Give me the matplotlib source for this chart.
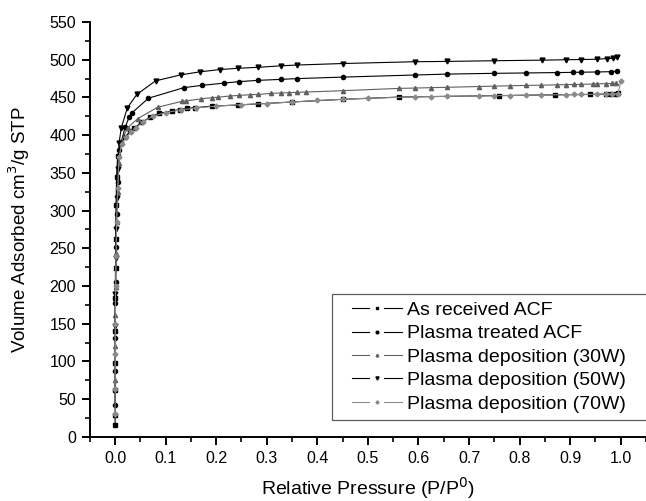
import matplotlib
matplotlib.use('Agg')
import matplotlib.pyplot as plt
from matplotlib.ticker import MultipleLocator
from matplotlib.lines import Line2D
from matplotlib.legend_handler import HandlerLine2D

plt.rcParams['font.family'] = ['Liberation Sans', 'DejaVu Sans']

# ---------------- data ----------------
labels = ['As received ACF', 'Plasma treated ACF', 'Plasma deposition (30W)',
          'Plasma deposition (50W)', 'Plasma deposition (70W)']

x_asrec = [0.00001, 0.00003, 0.0001, 0.0002, 0.0004, 0.0007, 0.001, 0.0015, 0.002, 0.003, 0.005,
           0.012, 0.02, 0.03, 0.038, 0.052, 0.07, 0.087, 0.113, 0.128, 0.143, 0.158, 0.191, 0.244,
           0.283, 0.35, 0.45, 0.561, 0.759, 0.871, 0.94, 0.97, 0.98, 0.99, 0.995]
y_asrec = [16, 29, 62, 98, 140, 184, 224, 263, 308, 345, 372,
           390, 398, 405, 409, 417, 424, 429, 432, 434, 435.5, 436.5, 438.5, 440,
           441.5, 444, 447.5, 450.5, 452.5, 453.5, 454, 454.5, 455, 455, 455.5]

x_treat = [0.00002, 0.00008, 0.0003, 0.0008, 0.0012, 0.002, 0.003, 0.005, 0.008,
           0.02, 0.028, 0.034, 0.066, 0.136, 0.171, 0.215, 0.245, 0.283, 0.329, 0.359, 0.45,
           0.594, 0.657, 0.75, 0.812, 0.874, 0.906, 0.922, 0.953, 0.981, 0.993]
y_treat = [42, 87, 131, 177, 206, 252, 296, 338, 380,
           411, 424, 430, 449, 463, 466, 469, 471, 472.7, 474, 475, 477,
           479.8, 481, 482, 482.5, 483, 483.3, 483.5, 483.8, 484.2, 485]

x_30w = [0.00004, 0.00015, 0.0005, 0.001, 0.002, 0.003, 0.005, 0.008,
         0.012, 0.025, 0.045, 0.084, 0.133, 0.141, 0.169, 0.191, 0.204, 0.227, 0.245, 0.266,
         0.283, 0.309, 0.329, 0.344, 0.359, 0.377, 0.45, 0.561, 0.594, 0.625, 0.657, 0.719,
         0.75, 0.781, 0.812, 0.843, 0.874, 0.891, 0.907, 0.922, 0.945, 0.953, 0.97, 0.983, 0.991]
y_30w = [75, 120, 162, 199, 244, 285, 325, 363,
         392, 410, 422, 437, 445, 445.5, 448, 449.7, 450.3, 452, 452.7, 453.6,
         454, 455.5, 456, 456.3, 456.8, 457.2, 459, 462, 462.5, 463, 463.5, 464.5,
         465, 465.5, 466, 466.3, 466.7, 467, 467.2, 467.4, 467.8, 468, 468.3, 468.6, 469]

x_50w = [0.0001, 0.0004, 0.001, 0.002, 0.003, 0.005, 0.008,
         0.012, 0.024, 0.043, 0.08, 0.13, 0.168, 0.207, 0.244, 0.283, 0.329, 0.359, 0.45,
         0.594, 0.657, 0.75, 0.845, 0.891, 0.922, 0.953, 0.973, 0.985, 0.993]
y_50w = [147, 190, 237, 276, 317, 355, 390,
         409, 436, 454, 472, 480, 484, 487, 488.7, 490, 492, 493, 495,
         497.4, 497.8, 498.7, 499.5, 500, 500.3, 500.7, 501.5, 502, 503]

x_70w = [0.00002, 0.00006, 0.0002, 0.0005, 0.001, 0.0018, 0.003, 0.005, 0.008,
         0.013, 0.022, 0.032, 0.042, 0.056, 0.075, 0.1, 0.13, 0.16, 0.2, 0.25, 0.3,
         0.35, 0.4, 0.45, 0.5, 0.594, 0.625, 0.657, 0.72, 0.75, 0.781, 0.812, 0.843,
         0.891, 0.907, 0.922, 0.953, 0.97, 0.983, 0.995, 1.0]
y_70w = [30, 64, 110, 150, 200, 240, 285, 330, 371,
         388, 397, 404, 410, 418, 425, 430, 433.5, 436, 438.5, 440.5, 442,
         444, 446, 447.5, 449, 450.8, 451.2, 451.5, 452, 452.3, 452.6, 453, 453.3,
         453.7, 454, 454, 454.3, 454.5, 454.7, 455, 472]


# legend handle drawn Origin-style: line - gap - marker - gap - line
# (the handle box is wider than the drawn part, which sits at its right side; units are points)
class GapHandler(HandlerLine2D):
    def create_artists(self, legend, orig_handle, xdescent, ydescent,
                       width, height, fontsize, trans):
        y = height / 2.0 - ydescent
        x1 = -xdescent + width
        x0 = x1 - 36.0
        mid = (x0 + x1) / 2.0
        gap = 5.5
        col = orig_handle.get_color()
        lw = orig_handle.get_linewidth()
        left = Line2D([x0, mid - gap], [y, y], color=col, lw=lw)
        right = Line2D([mid + gap, x1], [y, y], color=col, lw=lw)
        mark = Line2D([mid], [y], linestyle='none', marker=orig_handle.get_marker(),
                      ms=orig_handle.get_markersize() * 0.65, color=col)
        for a in (left, right, mark):
            a.set_transform(trans)
        return [left, right, mark]


# ---------------- plot ----------------
fig = plt.figure(figsize=(6.46, 5.01), dpi=100)
ax = fig.add_axes([0.139, 0.128, 0.861, 0.828])

ax.plot(x_asrec, y_asrec, color='black', lw=0.8, marker='s', ms=3, label=labels[0])
ax.plot(x_treat, y_treat, color='black', lw=0.8, marker='o', ms=3, label=labels[1])
ax.plot(x_30w, y_30w, color='#606060', lw=0.8, marker='^', ms=3, label=labels[2])
ax.plot(x_50w, y_50w, color='black', lw=0.8, marker='v', ms=3.5, label=labels[3])
ax.plot(x_70w, y_70w, color='#8a8a8a', lw=0.8, marker='D', ms=2.5, label=labels[4])

ax.set_xlim(-0.05, 1.05)
ax.set_ylim(0, 550)
ax.xaxis.set_major_locator(MultipleLocator(0.1))
ax.xaxis.set_minor_locator(MultipleLocator(0.05))
ax.yaxis.set_major_locator(MultipleLocator(50))
ax.yaxis.set_minor_locator(MultipleLocator(25))
ax.xaxis.set_major_formatter(plt.FuncFormatter(lambda v, p: '%.1f' % v))

for s in ['top', 'right']:
    ax.spines[s].set_visible(False)
for s in ['left', 'bottom']:
    ax.spines[s].set_linewidth(1.4)
ax.tick_params(which='major', direction='out', length=6, width=1.4, labelsize=11.5, pad=4)
ax.tick_params(which='minor', direction='out', length=3.5, width=1.2)

ax.set_xlabel('Relative Pressure (P/P$^0$)', fontsize=14, labelpad=7)
ax.set_ylabel('Volume Adsorbed cm$^3$/g STP', fontsize=13.5, labelpad=12)

leg = ax.legend(handler_map={Line2D: GapHandler()},
                loc='upper left', bbox_to_anchor=(0.4355, 0.0, 0.6, 0.3445), mode='expand',
                borderaxespad=0, fontsize=14, frameon=True, fancybox=False,
                edgecolor='#333333', handlelength=3.2, borderpad=0.38,
                labelspacing=0.3, handletextpad=0.3)
leg.get_frame().set_linewidth(0.9)

plt.savefig('out.png', dpi=100)
